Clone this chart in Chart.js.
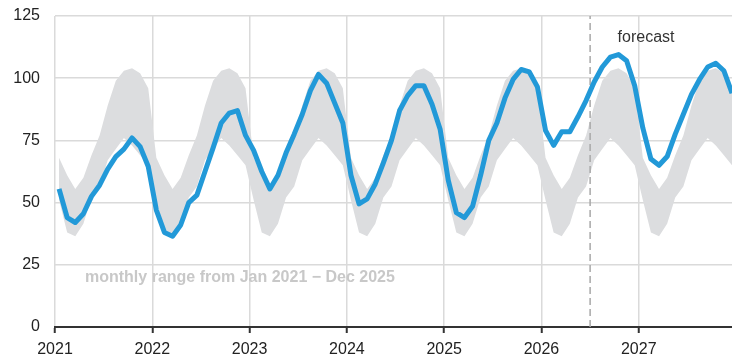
<!DOCTYPE html>
<html>
<head>
<meta charset="utf-8">
<script src="https://cdn.jsdelivr.net/npm/chart.js@4.4.1/dist/chart.umd.min.js"></script>
<style>
  html, body { margin: 0; padding: 0; background: #fff; }
  #wrap { width: 732px; height: 360px; }
</style>
</head>
<body>
<div id="wrap"><canvas id="chart"></canvas></div>
<script>
// monthly values, Jan..Dec
const demand2021 = [55.5, 44, 42, 45.5, 52.5, 57, 63.5, 68.5, 71.5, 76, 72.5, 64.5];
const demand2022 = [47, 38, 36.5, 41, 50, 53, 62.5, 72, 82, 86, 87, 77];
const demand2023 = [71, 62.5, 55.5, 61, 70, 77.5, 85.5, 95, 101.5, 98, 90, 82];
const demand2024 = [61, 49.5, 51.5, 57.5, 66, 75, 87, 93, 97, 97, 89.5, 79.5];
const demand2025 = [59, 46, 44, 48.5, 61, 75, 82, 92, 99.5, 103.5, 102.5, 96.5];
const forecast2026 = [79, 73, 78.5, 78.5, 84.5, 91, 98.5, 104.5, 108.5, 109.5, 107, 97];
const forecast2027 = [80, 67.5, 65, 68.5, 77.5, 85.5, 93.5, 99.5, 104.5, 106, 103, 94];

// monthly range Jan 2021 - Dec 2025 (same band every year)
const bandHigh = [68, 61, 55.5, 60, 69, 77, 89, 99, 103, 104, 102, 96];
const bandLow = [51, 38, 36.5, 41.5, 52, 56.5, 67, 71.5, 76, 73, 69, 65];

const yearTicks = ['2021', '2022', '2023', '2024', '2025', '2026', '2027'];
const valueTicks = [0, 25, 50, 75, 100, 125];
const forecastStart = 66; // months after Jan 2021 (Jul 2026)
const rangeNote = 'monthly range from Jan 2021 \u2212 Dec 2025';

const FONT = '"Liberation Sans", Arial, sans-serif';

const demand = [].concat(demand2021, demand2022, demand2023, demand2024, demand2025, forecast2026, forecast2027);
const linePts = demand.map((v, i) => ({ x: i + 0.5, y: v }));
const lowPts = demand.map((v, i) => ({ x: i + 0.5, y: bandLow[i % 12] }));
const highPts = demand.map((v, i) => ({ x: i + 0.5, y: bandHigh[i % 12] }));

const notes = {
  id: 'notes',
  afterDatasetsDraw(chart) {
    const { ctx, scales: { x, y } } = chart;
    ctx.save();
    ctx.textBaseline = 'middle';
    ctx.font = 'bold 16px ' + FONT;
    ctx.fillStyle = '#c8c8c8';
    ctx.textAlign = 'left';
    ctx.fillText(rangeNote, x.getPixelForValue(3.7), y.getPixelForValue(19.7));
    ctx.font = '16px ' + FONT;
    ctx.fillStyle = '#333';
    ctx.textAlign = 'center';
    ctx.fillText('forecast', x.getPixelForValue(72.9), y.getPixelForValue(116.5));
    ctx.restore();
  }
};

new Chart(document.getElementById('chart'), {
  type: 'line',
  data: {
    datasets: [
      { data: lowPts, borderWidth: 0, pointRadius: 0, fill: false, order: 3 },
      { data: highPts, borderWidth: 0, pointRadius: 0, fill: '-1', backgroundColor: '#dcdddf', order: 3 },
      {
        data: [{ x: forecastStart, y: 0 }, { x: forecastStart, y: 125 }],
        borderColor: '#a8a8a8', borderWidth: 1.5, borderDash: [7, 4], pointRadius: 0, fill: false, order: 2
      },
      {
        data: linePts, borderColor: '#2299d8', borderWidth: 5, borderJoinStyle: 'round',
        pointRadius: 0, fill: false, tension: 0, order: 1
      }
    ]
  },
  options: {
    responsive: true,
    maintainAspectRatio: false,
    animation: false,
    layout: { padding: { top: 16, right: 0, left: 0, bottom: 0 } },
    plugins: { legend: { display: false }, tooltip: { enabled: false } },
    scales: {
      x: {
        type: 'linear',
        min: 0,
        max: 83.5,
        afterBuildTicks: s => { s.ticks = yearTicks.map((t, i) => ({ value: i * 12 })); },
        afterFit: s => { s.height = 33; },
        ticks: {
          callback: (v, i) => yearTicks[i],
          color: '#222',
          font: { family: FONT, size: 16 },
          padding: 7,
          maxRotation: 0
        },
        grid: { color: '#dadada', lineWidth: 1.5, tickColor: '#333', tickWidth: 2, tickLength: 6 },
        border: { color: '#333', width: 2 }
      },
      y: {
        min: 0,
        max: 125,
        afterBuildTicks: s => { s.ticks = valueTicks.map(v => ({ value: v })); },
        afterFit: s => { s.width = 55; },
        ticks: {
          color: '#222',
          font: { family: FONT, size: 16 },
          padding: 0
        },
        grid: {
          color: c => (c.tick && c.tick.value === 0 ? 'rgba(0,0,0,0)' : '#dadada'),
          lineWidth: 1.5,
          tickLength: 15,
          tickColor: 'rgba(0,0,0,0)'
        },
        border: { display: false }
      }
    }
  },
  plugins: [notes]
});
</script>
</body>
</html>
